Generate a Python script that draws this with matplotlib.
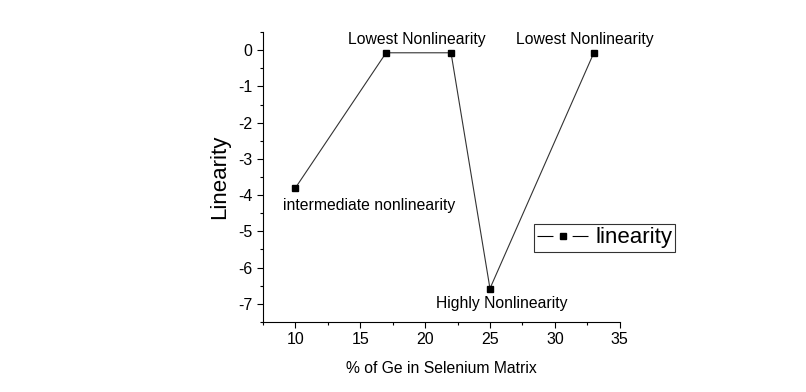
import matplotlib
matplotlib.use('Agg')
import matplotlib.pyplot as plt
from matplotlib.lines import Line2D
from matplotlib.ticker import MultipleLocator

# data
ge_percent = [10, 17, 22, 25, 33]
linearity = [-3.81, -0.07, -0.07, -6.58, -0.07]

labels = ['intermediate nonlinearity', 'Lowest Nonlinearity',
          'Lowest Nonlinearity', 'Highly Nonlinearity']
label_x = [15.7, 19.4, 32.3, 25.9]
label_y = [-4.29, 0.31, 0.31, -7.0]

plt.rcParams['font.family'] = ['Liberation Sans', 'DejaVu Sans']
plt.rcParams['axes.unicode_minus'] = False
plt.rcParams['lines.scale_dashes'] = False

fig = plt.figure(figsize=(8.06, 3.92), dpi=100)
ax = fig.add_axes([0.326, 0.179, 0.443, 0.739])

ax.plot(ge_percent, linearity, color='#333333', lw=0.8, marker='s',
        markersize=5, markerfacecolor='black', markeredgecolor='black')

for txt, x, y in zip(labels, label_x, label_y):
    ax.text(x, y, txt, ha='center', va='center', fontsize=11.3)

ax.set_xlim(7.5, 35)
ax.set_ylim(-7.5, 0.5)
ax.xaxis.set_major_locator(MultipleLocator(5))
ax.xaxis.set_minor_locator(MultipleLocator(2.5))
ax.yaxis.set_major_locator(MultipleLocator(1))
ax.yaxis.set_minor_locator(MultipleLocator(0.5))
ax.tick_params(which='both', direction='out', labelsize=11.5, width=0.8)
ax.tick_params(which='major', length=4)
ax.tick_params(which='minor', length=2.5)

for side in ['top', 'right']:
    ax.spines[side].set_visible(False)

ax.set_xlabel('% of Ge in Selenium Matrix', fontsize=11.3, labelpad=10)
ax.set_ylabel('Linearity', fontsize=16, labelpad=6)

# legend handle drawn Origin-style: dash, marker, dash
proxy = Line2D([], [], color='black', lw=0.8, ls=(0, (11.5, 13.8)),
               marker='s', markersize=5, markerfacecolor='black')
leg = fig.legend([proxy], ['linearity'], loc='upper left',
                 bbox_to_anchor=(534 / 806, 1 - 224 / 392),
                 bbox_transform=fig.transFigure, borderaxespad=0,
                 fontsize=16, frameon=True, fancybox=False, edgecolor='black',
                 handlelength=2.3, borderpad=0.15, handletextpad=0.3)
leg.get_frame().set_linewidth(0.8)

fig.savefig('out.png', dpi=100)
